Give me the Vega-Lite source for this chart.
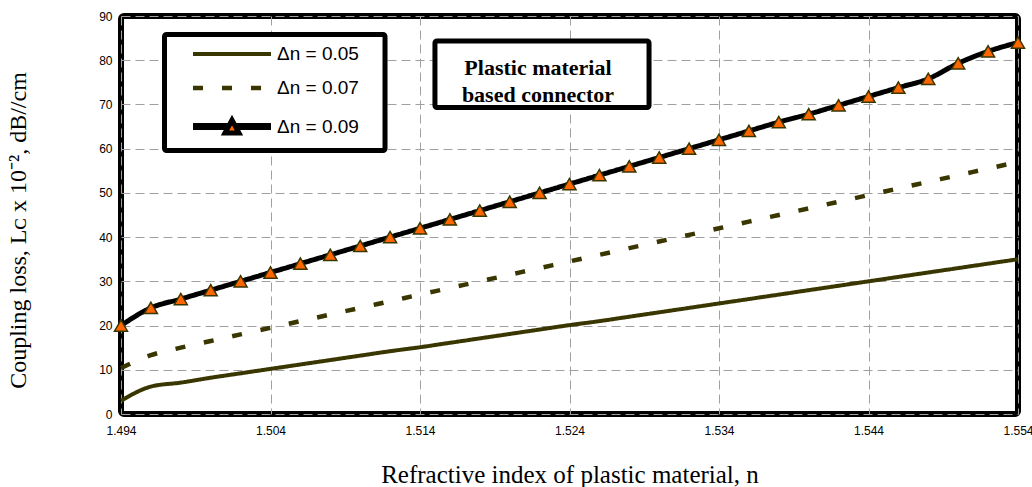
{
  "$schema": "https://vega.github.io/schema/vega-lite/v6.json",
  "width": 897,
  "height": 398,
  "autosize": {"type": "none"},
  "padding": {"left": 121, "top": 16, "right": 14, "bottom": 73},
  "background": "#ffffff",
  "config": {
    "view": {"stroke": "#000000", "strokeWidth": 6, "cornerRadius": 3},
    "axis": {
      "grid": true, "gridColor": "#a0a0a0", "gridDash": [9, 5], "gridWidth": 1,
      "domain": false, "ticks": false,
      "labelFont": "Liberation Sans", "labelFontSize": 12, "labelColor": "#000000",
      "titleFont": "Liberation Serif", "titleFontWeight": "normal", "titleColor": "#000000"
    }
  },
  "data": {
    "values": [
      {"n": 1.494, "loss": 3, "series": "Δn = 0.05"},
      {"n": 1.496, "loss": 6.2, "series": "Δn = 0.05"},
      {"n": 1.498, "loss": 7.1, "series": "Δn = 0.05"},
      {"n": 1.5, "loss": 8.2, "series": "Δn = 0.05"},
      {"n": 1.502, "loss": 9.2, "series": "Δn = 0.05"},
      {"n": 1.504, "loss": 10.2, "series": "Δn = 0.05"},
      {"n": 1.506, "loss": 11.2, "series": "Δn = 0.05"},
      {"n": 1.508, "loss": 12.2, "series": "Δn = 0.05"},
      {"n": 1.51, "loss": 13.2, "series": "Δn = 0.05"},
      {"n": 1.512, "loss": 14.2, "series": "Δn = 0.05"},
      {"n": 1.514, "loss": 15.1, "series": "Δn = 0.05"},
      {"n": 1.516, "loss": 16.1, "series": "Δn = 0.05"},
      {"n": 1.518, "loss": 17.1, "series": "Δn = 0.05"},
      {"n": 1.52, "loss": 18.1, "series": "Δn = 0.05"},
      {"n": 1.522, "loss": 19.1, "series": "Δn = 0.05"},
      {"n": 1.524, "loss": 20.1, "series": "Δn = 0.05"},
      {"n": 1.526, "loss": 21, "series": "Δn = 0.05"},
      {"n": 1.528, "loss": 22, "series": "Δn = 0.05"},
      {"n": 1.53, "loss": 23, "series": "Δn = 0.05"},
      {"n": 1.532, "loss": 24, "series": "Δn = 0.05"},
      {"n": 1.534, "loss": 25, "series": "Δn = 0.05"},
      {"n": 1.536, "loss": 26, "series": "Δn = 0.05"},
      {"n": 1.538, "loss": 27, "series": "Δn = 0.05"},
      {"n": 1.54, "loss": 28, "series": "Δn = 0.05"},
      {"n": 1.542, "loss": 29, "series": "Δn = 0.05"},
      {"n": 1.544, "loss": 30, "series": "Δn = 0.05"},
      {"n": 1.546, "loss": 31, "series": "Δn = 0.05"},
      {"n": 1.548, "loss": 32, "series": "Δn = 0.05"},
      {"n": 1.55, "loss": 33, "series": "Δn = 0.05"},
      {"n": 1.552, "loss": 34, "series": "Δn = 0.05"},
      {"n": 1.554, "loss": 35, "series": "Δn = 0.05"},
      {"n": 1.494, "loss": 10.4, "series": "Δn = 0.07"},
      {"n": 1.496, "loss": 13.3, "series": "Δn = 0.07"},
      {"n": 1.498, "loss": 15, "series": "Δn = 0.07"},
      {"n": 1.5, "loss": 16.5, "series": "Δn = 0.07"},
      {"n": 1.502, "loss": 18, "series": "Δn = 0.07"},
      {"n": 1.504, "loss": 19.5, "series": "Δn = 0.07"},
      {"n": 1.506, "loss": 21, "series": "Δn = 0.07"},
      {"n": 1.508, "loss": 22.5, "series": "Δn = 0.07"},
      {"n": 1.51, "loss": 24, "series": "Δn = 0.07"},
      {"n": 1.512, "loss": 25.5, "series": "Δn = 0.07"},
      {"n": 1.514, "loss": 27, "series": "Δn = 0.07"},
      {"n": 1.516, "loss": 28.5, "series": "Δn = 0.07"},
      {"n": 1.518, "loss": 30, "series": "Δn = 0.07"},
      {"n": 1.52, "loss": 31.5, "series": "Δn = 0.07"},
      {"n": 1.522, "loss": 33, "series": "Δn = 0.07"},
      {"n": 1.524, "loss": 34.5, "series": "Δn = 0.07"},
      {"n": 1.526, "loss": 36, "series": "Δn = 0.07"},
      {"n": 1.528, "loss": 37.5, "series": "Δn = 0.07"},
      {"n": 1.53, "loss": 39, "series": "Δn = 0.07"},
      {"n": 1.532, "loss": 40.5, "series": "Δn = 0.07"},
      {"n": 1.534, "loss": 42, "series": "Δn = 0.07"},
      {"n": 1.536, "loss": 43.5, "series": "Δn = 0.07"},
      {"n": 1.538, "loss": 45, "series": "Δn = 0.07"},
      {"n": 1.54, "loss": 46.5, "series": "Δn = 0.07"},
      {"n": 1.542, "loss": 48, "series": "Δn = 0.07"},
      {"n": 1.544, "loss": 49.5, "series": "Δn = 0.07"},
      {"n": 1.546, "loss": 51, "series": "Δn = 0.07"},
      {"n": 1.548, "loss": 52.5, "series": "Δn = 0.07"},
      {"n": 1.55, "loss": 54, "series": "Δn = 0.07"},
      {"n": 1.552, "loss": 55.5, "series": "Δn = 0.07"},
      {"n": 1.554, "loss": 57, "series": "Δn = 0.07"},
      {"n": 1.494, "loss": 20, "series": "Δn = 0.09"},
      {"n": 1.496, "loss": 24, "series": "Δn = 0.09"},
      {"n": 1.498, "loss": 26, "series": "Δn = 0.09"},
      {"n": 1.5, "loss": 28, "series": "Δn = 0.09"},
      {"n": 1.502, "loss": 30, "series": "Δn = 0.09"},
      {"n": 1.504, "loss": 32, "series": "Δn = 0.09"},
      {"n": 1.506, "loss": 34, "series": "Δn = 0.09"},
      {"n": 1.508, "loss": 36, "series": "Δn = 0.09"},
      {"n": 1.51, "loss": 38, "series": "Δn = 0.09"},
      {"n": 1.512, "loss": 40, "series": "Δn = 0.09"},
      {"n": 1.514, "loss": 42, "series": "Δn = 0.09"},
      {"n": 1.516, "loss": 44, "series": "Δn = 0.09"},
      {"n": 1.518, "loss": 46, "series": "Δn = 0.09"},
      {"n": 1.52, "loss": 48, "series": "Δn = 0.09"},
      {"n": 1.522, "loss": 50, "series": "Δn = 0.09"},
      {"n": 1.524, "loss": 52, "series": "Δn = 0.09"},
      {"n": 1.526, "loss": 54, "series": "Δn = 0.09"},
      {"n": 1.528, "loss": 56, "series": "Δn = 0.09"},
      {"n": 1.53, "loss": 58, "series": "Δn = 0.09"},
      {"n": 1.532, "loss": 60, "series": "Δn = 0.09"},
      {"n": 1.534, "loss": 62, "series": "Δn = 0.09"},
      {"n": 1.536, "loss": 64, "series": "Δn = 0.09"},
      {"n": 1.538, "loss": 66, "series": "Δn = 0.09"},
      {"n": 1.54, "loss": 67.8, "series": "Δn = 0.09"},
      {"n": 1.542, "loss": 69.8, "series": "Δn = 0.09"},
      {"n": 1.544, "loss": 71.8, "series": "Δn = 0.09"},
      {"n": 1.546, "loss": 73.8, "series": "Δn = 0.09"},
      {"n": 1.548, "loss": 75.8, "series": "Δn = 0.09"},
      {"n": 1.55, "loss": 79.3, "series": "Δn = 0.09"},
      {"n": 1.552, "loss": 82, "series": "Δn = 0.09"},
      {"n": 1.554, "loss": 84, "series": "Δn = 0.09"}
    ]
  },
  "layer": [
    {
      "data": {"values": [{}]},
      "mark": {"type": "rect", "fill": "#ffffff", "stroke": "#000000", "strokeWidth": 5, "cornerRadius": 2},
      "encoding": {
        "x": {"datum": 1.49691, "type": "quantitative"},
        "x2": {"datum": 1.51166},
        "y": {"datum": 85.82, "type": "quantitative"},
        "y2": {"datum": 59.59}
      }
    },
    {
      "data": {"values": [{}]},
      "mark": {"type": "rect", "fill": "#ffffff", "stroke": "#000000", "strokeWidth": 5, "cornerRadius": 2},
      "encoding": {
        "x": {"datum": 1.515, "type": "quantitative"},
        "x2": {"datum": 1.52932},
        "y": {"datum": 84.35, "type": "quantitative"},
        "y2": {"datum": 69.31}
      }
    },
    {
      "data": {"values": [{}]},
      "mark": {"type": "text", "text": ["Plastic material", "based connector"], "font": "Liberation Serif", "fontWeight": "bold", "fontSize": 22, "lineHeight": 27, "align": "center", "baseline": "alphabetic", "color": "#000000"},
      "encoding": {
        "x": {"datum": 1.52189, "type": "quantitative"},
        "y": {"datum": 76.66, "type": "quantitative"}
      }
    },
    {
      "mark": {"type": "line", "interpolate": "monotone"},
      "encoding": {
        "x": {
          "field": "n", "type": "quantitative",
          "scale": {"domain": [1.494, 1.554], "nice": false, "zero": false},
          "axis": {"values": [1.494, 1.504, 1.514, 1.524, 1.534, 1.544, 1.554], "format": ".3f", "labelFlush": false, "labelOverlap": false, "labelBound": false, "labelPadding": 11, "title": "Refractive index of plastic material, n", "titleFontSize": 25, "titlePadding": 26}
        },
        "y": {
          "field": "loss", "type": "quantitative",
          "scale": {"domain": [0, 90], "nice": false, "zero": true},
          "axis": {"values": [0, 10, 20, 30, 40, 50, 60, 70, 80, 90], "labelPadding": 9, "title": "Coupling loss, Lᴄ x 10⁻², dB//cm", "titleFontSize": 24, "titlePadding": 68, "titleY": 214}
        },
        "color": {
          "field": "series", "type": "nominal",
          "scale": {"domain": ["Δn = 0.05", "Δn = 0.07", "Δn = 0.09"], "range": ["#3a3600", "#3a3600", "#000000"]},
          "legend": {
            "title": null, "orient": "none", "legendX": 98.5, "legendY": 26,
            "symbolType": "stroke", "symbolSize": 400,
            "labelFont": "Liberation Sans", "labelFontSize": 19, "labelColor": "#000000", "labelOffset": 32.5,
            "rowPadding": 11.5, "padding": 0,
            "encode": {
              "symbols": {
                "update": {
                  "shape": {"signal": "datum.value === 'Δn = 0.09' ? 'M-3.9,-0.1H-0.37M0.37,-0.1H3.9M-3.9,0H-0.37M0.37,0H3.9M-3.9,0.1H-0.37M0.37,0.1H3.9M0,-0.65L0.7,0.65L-0.7,0.65Z' : 'M-3.9,0H3.9'"},
                  "fill": {"signal": "datum.value === 'Δn = 0.09' ? '#ff6600' : 'transparent'"},
                  "strokeWidth": {"signal": "datum.value === 'Δn = 0.09' ? 1.7 : (datum.value === 'Δn = 0.05' ? 4 : 5)"}
                }
              }
            }
          }
        },
        "strokeDash": {
          "field": "series", "type": "nominal",
          "scale": {"domain": ["Δn = 0.05", "Δn = 0.07", "Δn = 0.09"], "range": [[1, 0], [10, 19], [1, 0]]}
        },
        "strokeWidth": {
          "field": "series", "type": "ordinal",
          "scale": {"domain": ["Δn = 0.05", "Δn = 0.07", "Δn = 0.09"], "range": [4, 5, 5]},
          "legend": null
        }
      }
    },
    {
      "transform": [{"filter": "datum.series === 'Δn = 0.09'"}],
      "mark": {"type": "point", "shape": "triangle-up", "filled": true, "size": 170, "fill": "#ff6600", "stroke": "#3a3600", "strokeWidth": 1.5, "opacity": 1},
      "encoding": {
        "x": {"field": "n", "type": "quantitative"},
        "y": {"field": "loss", "type": "quantitative"}
      }
    }
  ]
}
